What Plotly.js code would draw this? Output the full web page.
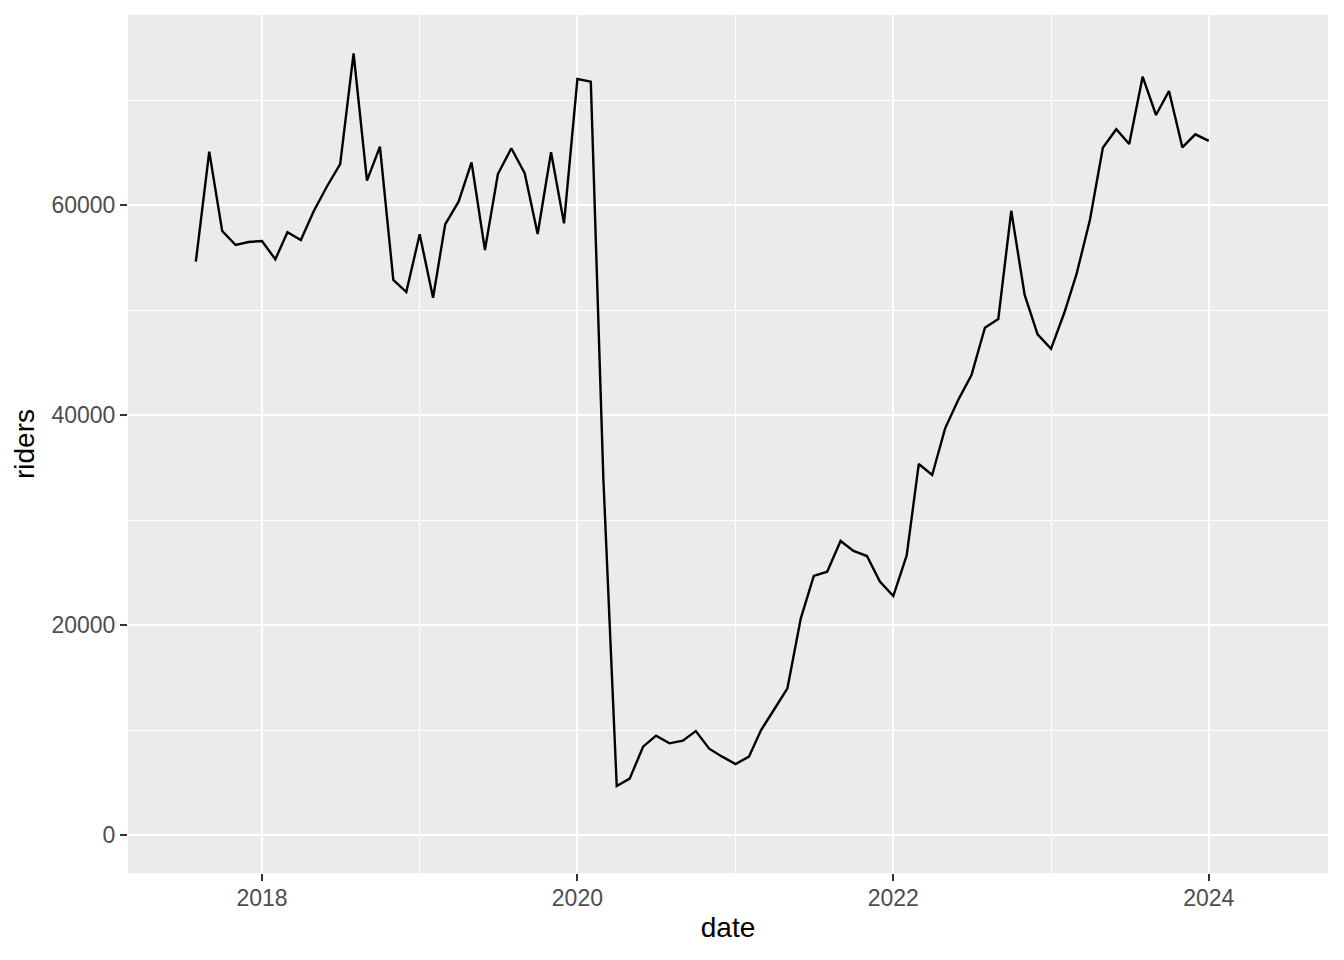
<!DOCTYPE html>
<html>
<head>
<meta charset="utf-8">
<script src="https://cdn.plot.ly/plotly-3.0.1.min.js"></script>
<style>html,body{margin:0;padding:0;background:#fff;}#chart{width:1344px;height:960px;}</style>
</head>
<body>
<div id="chart"></div>
<script>
const dates = [
 "2017-08-01","2017-09-01","2017-10-01","2017-11-01","2017-12-01",
 "2018-01-01","2018-02-01","2018-03-01","2018-04-01","2018-05-01","2018-06-01","2018-07-01","2018-08-01","2018-09-01","2018-10-01","2018-11-01","2018-12-01",
 "2019-01-01","2019-02-01","2019-03-01","2019-04-01","2019-05-01","2019-06-01","2019-07-01","2019-08-01","2019-09-01","2019-10-01","2019-11-01","2019-12-01",
 "2020-01-01","2020-02-01","2020-03-01","2020-04-01","2020-05-01","2020-06-01","2020-07-01","2020-08-01","2020-09-01","2020-10-01","2020-11-01","2020-12-01",
 "2021-01-01","2021-02-01","2021-03-01","2021-04-01","2021-05-01","2021-06-01","2021-07-01","2021-08-01","2021-09-01","2021-10-01","2021-11-01","2021-12-01",
 "2022-01-01","2022-02-01","2022-03-01","2022-04-01","2022-05-01","2022-06-01","2022-07-01","2022-08-01","2022-09-01","2022-10-01","2022-11-01","2022-12-01",
 "2023-01-01","2023-02-01","2023-03-01","2023-04-01","2023-05-01","2023-06-01","2023-07-01","2023-08-01","2023-09-01","2023-10-01","2023-11-01","2023-12-01",
 "2024-01-01"
];
const riders = [
 54600, 65080, 57520, 56190, 56480,
 56570, 54830, 57400, 56670, 59430, 61810, 63900, 74450, 62320, 65550, 52860, 51710,
 57210, 51170, 58160, 60320, 64060, 55710, 62950, 65400, 63020, 57240, 65020, 58250,
 72000, 71750, 34000, 4670, 5370, 8410, 9460, 8730, 8980, 9900, 8220, 7460,
 6760, 7460, 10000, 12000, 13970, 20640, 24670, 25080, 28000, 27050, 26570, 24130,
 22760, 26620, 35330, 34290, 38730, 41490, 43810, 48320, 49140, 59450, 51430, 47680,
 46300, 49760, 53410, 58570, 65460, 67210, 65810, 72220, 68570, 70860, 65490, 66730,
 66100
];
const xTickVals = ["2018-01-01","2020-01-01","2022-01-01","2024-01-01"];
const xTickText = ["2018","2020","2022","2024"];
const yTickVals = [0, 20000, 40000, 60000];
const yTickText = ["0","20000","40000","60000"];

const trace = {
  x: dates, y: riders, type: "scatter", mode: "lines",
  line: {color: "#000000", width: 2.4}, hoverinfo: "x+y"
};
const layout = {
  width: 1344, height: 960,
  margin: {l: 128, r: 16, t: 15, b: 87, pad: 0},
  paper_bgcolor: "#ffffff", plot_bgcolor: "#EBEBEB",
  showlegend: false,
  font: {family: "Liberation Sans, Arial, sans-serif", color: "#4D4D4D", size: 23},
  xaxis: {
    type: "date",
    range: ["2017-02-25", "2024-10-03"],
    tickmode: "array", tickvals: xTickVals, ticktext: xTickText,
    ticks: "outside", ticklen: 7, tickwidth: 2, tickcolor: "#333333",
    ticklabelstandoff: -3,
    showgrid: true, gridcolor: "#FFFFFF", gridwidth: 2,
    minor: {tickmode: "array", tickvals: ["2019-01-01","2021-01-01","2023-01-01"], showgrid: true, gridcolor: "#FFFFFF", gridwidth: 1, ticks: ""},
    zeroline: false, showline: false,
    tickfont: {size: 23, color: "#4D4D4D"},
    title: {text: "date", font: {size: 28, color: "#000000"}, standoff: 7}
  },
  yaxis: {
    range: [-3619, 78095],
    tickmode: "array", tickvals: yTickVals, ticktext: yTickText,
    ticks: "outside", ticklen: 7, tickwidth: 2, tickcolor: "#333333",
    showgrid: true, gridcolor: "#FFFFFF", gridwidth: 2,
    minor: {tickmode: "array", tickvals: [10000, 30000, 50000, 70000], showgrid: true, gridcolor: "#FFFFFF", gridwidth: 1, ticks: ""},
    zeroline: false, showline: false,
    tickfont: {size: 23, color: "#4D4D4D"},
    title: {text: "riders", font: {size: 28, color: "#000000"}, standoff: 8}
  }
};
Plotly.newPlot("chart", [trace], layout, {displayModeBar: false, staticPlot: true});
</script>
</body>
</html>
